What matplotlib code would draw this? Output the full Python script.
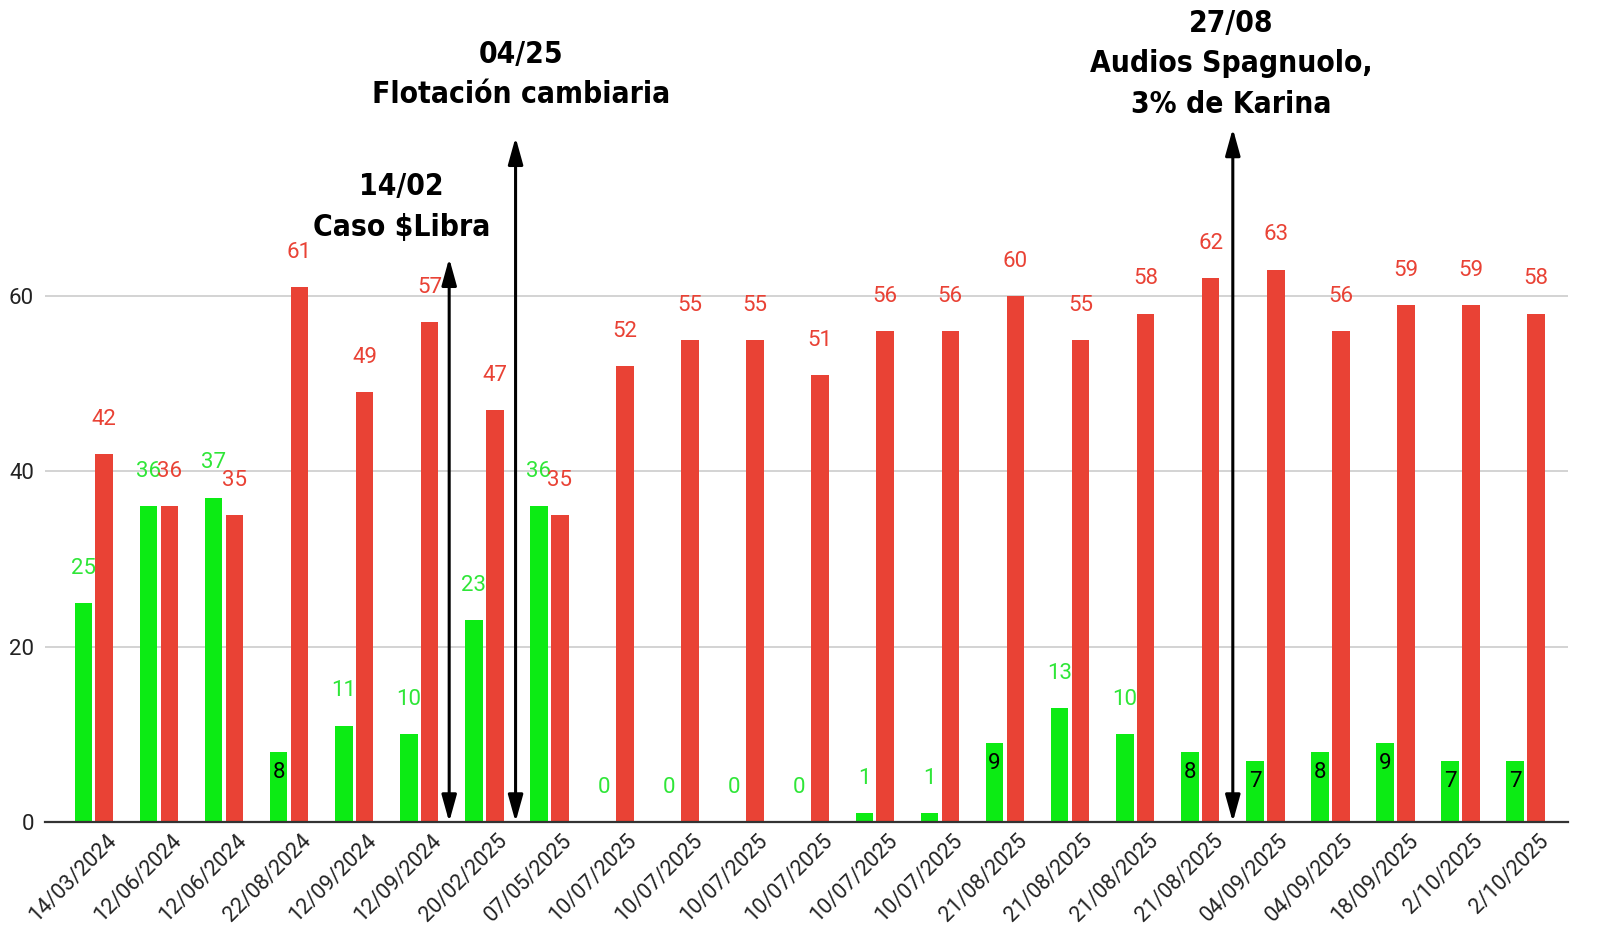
import matplotlib
matplotlib.use("Agg")
import matplotlib.pyplot as plt
import matplotlib.transforms as mtransforms
import numpy as np

# Datos
fechas = ["14/03/2024", "12/06/2024", "12/06/2024", "22/08/2024", "12/09/2024",
          "12/09/2024", "20/02/2025", "07/05/2025", "10/07/2025", "10/07/2025",
          "10/07/2025", "10/07/2025", "10/07/2025", "10/07/2025", "21/08/2025",
          "21/08/2025", "21/08/2025", "21/08/2025", "04/09/2025", "04/09/2025",
          "18/09/2025", "2/10/2025", "2/10/2025"]
verde = [25, 36, 37, 8, 11, 10, 23, 36, 0, 0, 0, 0, 1, 1, 9, 13, 10, 8, 7, 8, 9, 7, 7]
rojo = [42, 36, 35, 61, 49, 57, 47, 35, 52, 55, 55, 51, 56, 56, 60, 55, 58, 62, 63, 56, 59, 59, 58]

# eventos: posicion entre categorias, tope de la flecha, texto
evento_x = [5.46, 6.48, 17.5]
evento_top = [64.3, 78.1, 79.1]
evento_txt = ["14/02\nCaso $Libra", "04/25\nFlotación cambiaria",
              "27/08\nAudios Spagnuolo,\n3% de Karina"]
evento_txt_x = [4.73, 6.56, 17.48]
evento_txt_y = [66.2, 81.3, 80.2]

GREEN = "#0ceb14"
GREEN_TXT = "#2fe638"
RED = "#e94235"

plt.rcParams['font.family'] = ['Roboto', 'DejaVu Sans']

fig = plt.figure(figsize=(16.08, 9.43), dpi=100)
ax = fig.add_axes([45 / 1608, 121 / 943, (1568 - 45) / 1608, 822 / 943])

x = np.arange(len(fechas))
w = 0.27
off = 0.16
ax.bar(x - off, verde, width=w, color=GREEN, zorder=2)
ax.bar(x + off, rojo, width=w, color=RED, zorder=2)

for i, v in enumerate(verde):
    if 2 <= v < 10:
        ax.annotate(str(v), (x[i] - off, v), xytext=(0, -15), textcoords="offset points",
                    ha="center", va="center", fontsize=16, color="black", zorder=3)
    else:
        ax.annotate(str(v), (x[i] - off, v), xytext=(0, 25), textcoords="offset points",
                    ha="center", va="center", fontsize=16, color=GREEN_TXT, zorder=3)
for i, v in enumerate(rojo):
    ax.annotate(str(v), (x[i] + off, v), xytext=(0, 25), textcoords="offset points",
                ha="center", va="center", fontsize=16, color=RED, zorder=3)

# flechas de eventos
for ex, top in zip(evento_x, evento_top):
    ax.annotate("", xy=(ex, 0), xytext=(ex, top),
                arrowprops=dict(arrowstyle="<|-|>,head_width=0.25,head_length=0.9",
                                color="black", lw=2.2,
                                mutation_scale=18, shrinkA=0, shrinkB=0), zorder=4)

for tx, ty, t in zip(evento_txt_x, evento_txt_y, evento_txt):
    ax.text(tx, ty, t, ha="center", va="bottom", fontsize=21.5, fontweight="bold",
            family=['DejaVu Sans'], fontstretch="condensed", linespacing=1.5,
            zorder=5)

ax.set_xlim(-0.75, len(fechas) - 0.35)
ax.set_ylim(0, 822 / 8.767)
ax.set_yticks([0, 20, 40, 60])
ax.yaxis.grid(True, color="#cccccc", lw=1.2, zorder=0)
for s in ["top", "right", "left"]:
    ax.spines[s].set_visible(False)
ax.spines["bottom"].set_color("#333333")
ax.spines["bottom"].set_linewidth(1.6)
ax.spines["bottom"].set_zorder(3)
ax.tick_params(axis="y", length=0, labelsize=16, pad=8, colors="#222222")
ax.tick_params(axis="x", length=0, labelsize=15.5, pad=6, colors="#222222")
ax.set_xticks(x)
ax.set_xticklabels(fechas, rotation=45, ha="right", rotation_mode="anchor")
shift = mtransforms.ScaledTranslation(12 / 100, 0, fig.dpi_scale_trans)
for lab in ax.get_xticklabels():
    lab.set_transform(lab.get_transform() + shift)

fig.savefig("out.png", dpi=100)
